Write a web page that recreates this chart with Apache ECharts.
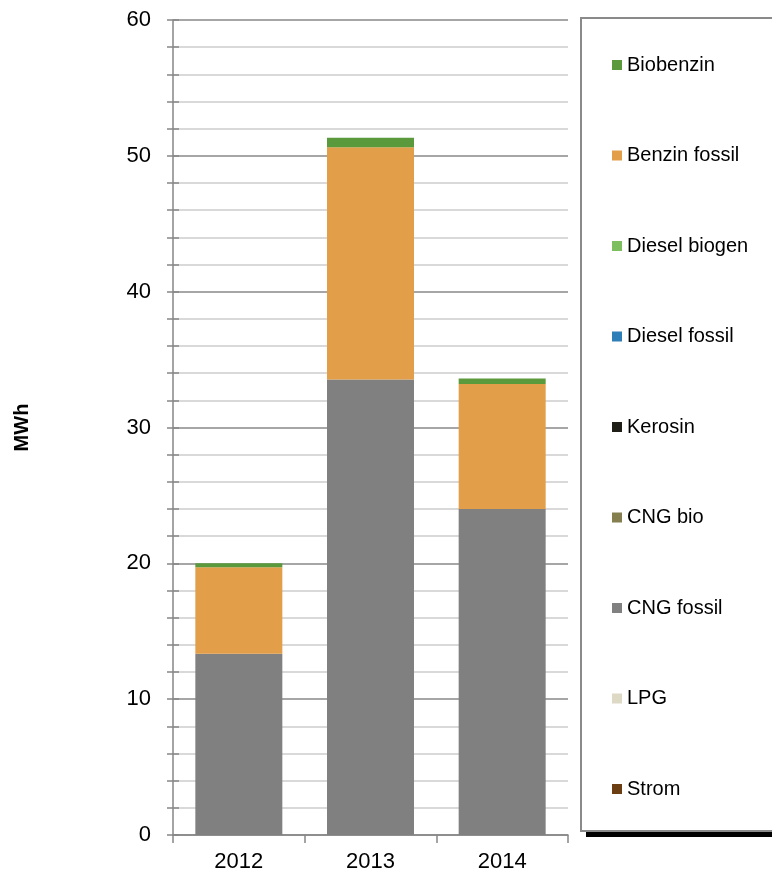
<!DOCTYPE html>
<html>
<head>
<meta charset="utf-8">
<script src="https://cdn.jsdelivr.net/npm/echarts@6/dist/echarts.min.js"></script>
<style>
  html, body { margin: 0; padding: 0; background: #fff; }
  #chart { width: 772px; height: 875px; }
</style>
</head>
<body>
<div id="chart"></div>
<script>
// ---- Data ----
var categories = ['2012', '2013', '2014'];
var seriesNames = ['Strom', 'LPG', 'CNG fossil', 'CNG bio', 'Kerosin', 'Diesel fossil', 'Diesel biogen', 'Benzin fossil', 'Biobenzin'];
var strom        = [0, 0, 0];
var lpg          = [0, 0, 0];
var cngFossil    = [13.35, 33.53, 24.0];
var cngBio       = [0, 0, 0];
var kerosin      = [0, 0, 0];
var dieselFossil = [0, 0, 0];
var dieselBiogen = [0, 0, 0];
var benzinFossil = [6.36, 17.1, 9.2];
var biobenzin    = [0.3, 0.7, 0.4];
var yTicks = [0, 10, 20, 30, 40, 50, 60];
var legendOrder = ['Biobenzin', 'Benzin fossil', 'Diesel biogen', 'Diesel fossil', 'Kerosin', 'CNG bio', 'CNG fossil', 'LPG', 'Strom'];

// ---- Styles ----
var values = [strom, lpg, cngFossil, cngBio, kerosin, dieselFossil, dieselBiogen, benzinFossil, biobenzin];
var colors = ['#6b3f12', '#ddd9c4', '#808080', '#857f50', '#1f1f17', '#2e7fb8', '#7dbe5e', '#e29e48', '#5a9a3c'];
var FONT = '"Liberation Sans", Arial, sans-serif';
var AXIS = '#868686';

var series = seriesNames.map(function (n, i) {
  return {
    name: n,
    type: 'bar',
    stack: 'total',
    barWidth: 87,
    data: values[i],
    itemStyle: { color: colors[i] },
    emphasis: { disabled: true }
  };
});

var chart = echarts.init(document.getElementById('chart'), null, { renderer: 'canvas' });
chart.setOption({
  animation: false,
  backgroundColor: '#fff',
  color: colors,
  textStyle: { fontFamily: FONT },
  grid: { left: 173, right: 204, top: 20, bottom: 40, containLabel: false },
  graphic: [{
    type: 'rect',
    z: -2,
    shape: { x: 586, y: 24, width: 260, height: 813 },
    style: { fill: '#000' }
  }, {
    type: 'rect',
    z: -1,
    shape: { x: 581, y: 18, width: 260, height: 813 },
    style: { fill: '#fff', stroke: '#8a8a8a', lineWidth: 2 }
  }],
  legend: {
    orient: 'vertical',
    left: 612,
    top: 55,
    padding: 0,
    data: legendOrder,
    itemWidth: 10,
    itemHeight: 10,
    itemGap: 70.5,
    icon: 'rect',
    selectedMode: false,
    textStyle: { fontFamily: FONT, fontSize: 20, color: '#000', lineHeight: 20 }
  },
  xAxis: {
    type: 'category',
    data: categories,
    axisLine: { lineStyle: { color: AXIS, width: 1.5 } },
    axisTick: { show: true, length: 8, lineStyle: { color: AXIS, width: 1.5 } },
    axisLabel: { fontFamily: FONT, fontSize: 22, color: '#000', margin: 16 },
    splitLine: { show: false }
  },
  yAxis: [{
    type: 'value',
    min: yTicks[0],
    max: yTicks[yTicks.length - 1],
    interval: 10,
    name: 'MWh',
    nameLocation: 'middle',
    nameRotate: 90,
    nameGap: 141,
    nameTextStyle: { fontFamily: FONT, fontSize: 20, fontWeight: 'bold', color: '#000' },
    axisLine: { show: true, lineStyle: { color: AXIS, width: 1.5 } },
    axisTick: { show: true, length: 6, lineStyle: { color: AXIS, width: 1.5 } },
    minorTick: { show: true, splitNumber: 5, length: 6, lineStyle: { color: AXIS, width: 1.5 } },
    axisLabel: { fontFamily: FONT, fontSize: 22, color: '#000', margin: 22 },
    splitLine: { show: true, lineStyle: { color: '#888', width: 1.5 } },
    minorSplitLine: { show: true, lineStyle: { color: '#d9d9d9', width: 2 } }
  }, {
    type: 'value',
    position: 'left',
    min: yTicks[0],
    max: yTicks[yTicks.length - 1],
    interval: 10,
    axisLine: { show: false },
    axisTick: { show: true, inside: true, length: 6, lineStyle: { color: AXIS, width: 1.5 } },
    minorTick: { show: true, splitNumber: 5, length: 6, lineStyle: { color: AXIS, width: 1.5 } },
    axisLabel: { show: false },
    splitLine: { show: false }
  }],
  series: series
});
</script>
</body>
</html>
